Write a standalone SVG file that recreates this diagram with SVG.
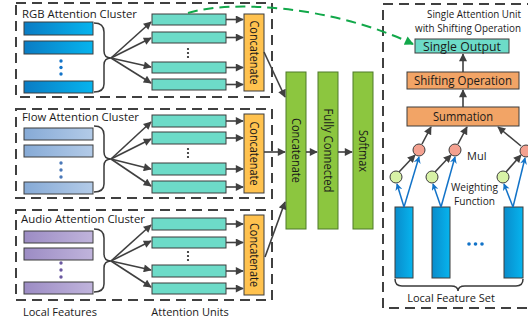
<svg xmlns="http://www.w3.org/2000/svg" width="528" height="323" viewBox="0 0 528 323">
  <defs>
    <linearGradient id="gRgb" x1="0" y1="0" x2="1" y2="0">
      <stop offset="0" stop-color="#0A7CC4"/>
      <stop offset="1" stop-color="#06B4EE"/>
    </linearGradient>
    <linearGradient id="gFlow" x1="0" y1="0" x2="1" y2="0">
      <stop offset="0" stop-color="#86AAD6"/>
      <stop offset="1" stop-color="#B3CBE8"/>
    </linearGradient>
    <linearGradient id="gAudio" x1="0" y1="0" x2="1" y2="0">
      <stop offset="0" stop-color="#9C8CC4"/>
      <stop offset="1" stop-color="#C0B4DC"/>
    </linearGradient>
    <linearGradient id="gFeat" x1="0" y1="0" x2="1" y2="0">
      <stop offset="0" stop-color="#0A8CCB"/>
      <stop offset="1" stop-color="#06B4EE"/>
    </linearGradient>
    <marker id="ah" viewBox="0 0 10 10" refX="9" refY="5" markerWidth="9" markerHeight="8" markerUnits="userSpaceOnUse" orient="auto">
      <path d="M0,0 L10,5 L0,10 Z" fill="#404040"/>
    </marker>
    <marker id="ahBlue" viewBox="0 0 10 10" refX="9" refY="5" markerWidth="8" markerHeight="7" markerUnits="userSpaceOnUse" orient="auto">
      <path d="M0,0 L10,5 L0,10 L3,5 Z" fill="#1273C8"/>
    </marker>
    <marker id="ahGreen" viewBox="0 0 10 10" refX="9" refY="5" markerWidth="11" markerHeight="9" markerUnits="userSpaceOnUse" orient="auto">
      <path d="M0,0 L10,5 L0,10 Z" fill="#12A84A"/>
    </marker>
  </defs>
  <style>
    text { font-family: "Open Sans", "Liberation Sans", sans-serif; fill: #1a1a1a; }
    .frame { fill: none; stroke: #404040; stroke-width: 2; stroke-dasharray: 10 6; }
    .title { font-size: 11px; }
    .label { font-size: 11px; }
    .unit { fill: #6DDBC8; stroke: #3c3c3c; stroke-width: 1; }
    .feat { stroke: #3c3c3c; stroke-width: 1; }
    .cat { fill: #FFC24F; stroke: #3c3c3c; stroke-width: 1; }
    .green { fill: #8CC63F; stroke: #4E7A2A; stroke-width: 1; }
    .orange { fill: #F2A466; stroke: #3c3c3c; stroke-width: 1; }
    .brace { fill: none; stroke: #3a3a3a; stroke-width: 1.5; }
    .arrow { fill: none; stroke: #404040; stroke-width: 1.6; marker-end: url(#ah); }
    .blue { fill: none; stroke: #1273C8; stroke-width: 1.5; marker-end: url(#ahBlue); }
    .mul { fill: #F4A190; stroke: #3c3c3c; stroke-width: 1; }
    .wfn { fill: #D8F2A6; stroke: #3c3c3c; stroke-width: 1; }
    .vtext { font-size: 12px; }
  </style>

  <!-- RGB cluster -->
  <g id="rgb-cluster">
    <rect class="frame" x="16" y="3" width="256" height="94"/>
    <text class="title" x="22" y="18" textLength="115" lengthAdjust="spacingAndGlyphs">RGB Attention Cluster</text>
    <rect class="feat" fill="url(#gRgb)" x="24" y="22" width="69" height="13"/>
    <rect class="feat" fill="url(#gRgb)" x="24" y="41" width="69" height="13"/>
    <rect class="feat" fill="url(#gRgb)" x="24" y="81" width="69" height="12"/>
    <g fill="#1273C8"><circle cx="61" cy="61" r="1.7"/><circle cx="61" cy="67.5" r="1.7"/><circle cx="61" cy="74" r="1.7"/></g>
    <path class="brace" d="M94,23 Q104,23 104,32 L104,51 Q104,58 111,58 Q104,58 104,65 L104,84 Q104,92 94,92"/>
    <rect class="unit" x="152" y="14" width="74" height="11"/>
    <rect class="unit" x="152" y="32" width="74" height="11"/>
    <rect class="unit" x="152" y="62" width="74" height="11"/>
    <rect class="unit" x="152" y="79" width="74" height="11"/>
    <g fill="#222"><circle cx="188" cy="49" r="1.1"/><circle cx="188" cy="53" r="1.1"/><circle cx="188" cy="57" r="1.1"/></g>
    <rect class="cat" x="244" y="14" width="20" height="77"/>
    <text class="vtext" transform="translate(250,52.5) rotate(90)" text-anchor="middle" textLength="64" lengthAdjust="spacingAndGlyphs">Concatenate</text>
  </g>

  <!-- Flow cluster -->
  <g id="flow-cluster">
    <rect class="frame" x="16" y="109" width="256" height="89"/>
    <text class="title" x="22" y="121" textLength="117" lengthAdjust="spacingAndGlyphs">Flow Attention Cluster</text>
    <rect class="feat" fill="url(#gFlow)" x="24" y="128" width="69" height="12"/>
    <rect class="feat" fill="url(#gFlow)" x="24" y="145" width="69" height="12"/>
    <rect class="feat" fill="url(#gFlow)" x="24" y="182" width="69" height="12"/>
    <g fill="#4A78B8"><circle cx="61" cy="163" r="1.7"/><circle cx="61" cy="170" r="1.7"/><circle cx="61" cy="177" r="1.7"/></g>
    <path class="brace" d="M94,126 Q104,126 104,135 L104,152 Q104,159 111,159 Q104,159 104,166 L104,184 Q104,192 94,192"/>
    <rect class="unit" x="152" y="115" width="74" height="12"/>
    <rect class="unit" x="152" y="132" width="74" height="12"/>
    <rect class="unit" x="152" y="163" width="74" height="12"/>
    <rect class="unit" x="152" y="181" width="74" height="12"/>
    <g fill="#222"><circle cx="188" cy="149" r="1.1"/><circle cx="188" cy="153" r="1.1"/><circle cx="188" cy="157" r="1.1"/></g>
    <rect class="cat" x="244" y="114" width="20" height="79"/>
    <text class="vtext" transform="translate(250,153.5) rotate(90)" text-anchor="middle" textLength="64" lengthAdjust="spacingAndGlyphs">Concatenate</text>
  </g>

  <!-- Audio cluster -->
  <g id="audio-cluster">
    <rect class="frame" x="16" y="210" width="256" height="90"/>
    <text class="title" x="21" y="223" textLength="124" lengthAdjust="spacingAndGlyphs">Audio Attention Cluster</text>
    <rect class="feat" fill="url(#gAudio)" x="24" y="231" width="69" height="12"/>
    <rect class="feat" fill="url(#gAudio)" x="24" y="248" width="69" height="12"/>
    <rect class="feat" fill="url(#gAudio)" x="24" y="282" width="69" height="12"/>
    <g fill="#6A58A0"><circle cx="61" cy="263" r="1.7"/><circle cx="61" cy="270" r="1.7"/><circle cx="61" cy="277" r="1.7"/></g>
    <path class="brace" d="M94,229 Q104,229 104,238 L104,254 Q104,261 111,261 Q104,261 104,268 L104,284 Q104,292 94,292"/>
    <rect class="unit" x="152" y="218" width="74" height="12"/>
    <rect class="unit" x="152" y="237" width="74" height="11"/>
    <rect class="unit" x="152" y="265" width="74" height="12"/>
    <rect class="unit" x="152" y="283" width="74" height="11"/>
    <g fill="#222"><circle cx="188" cy="252" r="1.1"/><circle cx="188" cy="256" r="1.1"/><circle cx="188" cy="260" r="1.1"/></g>
    <rect class="cat" x="244" y="215" width="20" height="80"/>
    <text class="vtext" transform="translate(250,255) rotate(90)" text-anchor="middle" textLength="64" lengthAdjust="spacingAndGlyphs">Concatenate</text>
  </g>

  <!-- Fusion layers -->
  <g id="concat-all">
    <rect class="green" x="286" y="72" width="20" height="157"/>
    <text class="vtext" transform="translate(292,150.5) rotate(90)" text-anchor="middle" textLength="65" lengthAdjust="spacingAndGlyphs">Concatenate</text>
  </g>
  <g id="fully-connected">
    <rect class="green" x="318" y="72" width="20" height="157"/>
    <text class="vtext" transform="translate(324,150.5) rotate(90)" text-anchor="middle" textLength="84" lengthAdjust="spacingAndGlyphs">Fully Connected</text>
  </g>
  <g id="softmax">
    <rect class="green" x="353" y="72" width="20" height="157"/>
    <text class="vtext" transform="translate(359,151) rotate(90)" text-anchor="middle" textLength="42" lengthAdjust="spacingAndGlyphs">Softmax</text>
  </g>

  <!-- Single attention unit panel -->
  <g id="attention-unit-panel">
    <rect class="frame" x="383" y="4" width="160" height="304"/>
    <text x="474" y="18" text-anchor="middle" font-size="10" textLength="94" lengthAdjust="spacingAndGlyphs">Single Attention Unit</text>
    <text x="468" y="32" text-anchor="middle" font-size="10" textLength="106" lengthAdjust="spacingAndGlyphs">with Shifting Operation</text>
  </g>
  <g id="single-output">
    <rect class="unit" x="415" y="39" width="94" height="14"/>
    <text x="462" y="50.5" text-anchor="middle" font-size="12" textLength="78" lengthAdjust="spacingAndGlyphs">Single Output</text>
  </g>
  <g id="shifting-operation">
    <rect class="orange" x="407" y="72" width="112" height="17"/>
    <text x="463" y="85" text-anchor="middle" font-size="12" textLength="98" lengthAdjust="spacingAndGlyphs">Shifting Operation</text>
  </g>
  <g id="summation">
    <rect class="orange" x="407" y="107" width="112" height="19"/>
    <text x="463" y="121" text-anchor="middle" font-size="12" textLength="60" lengthAdjust="spacingAndGlyphs">Summation</text>
  </g>
  <g id="mul">
    <circle class="mul" cx="419" cy="150" r="6"/>
    <circle class="mul" cx="455" cy="150" r="6"/>
    <circle class="mul" cx="526" cy="151" r="6"/>
    <text class="label" x="467" y="160">Mul</text>
  </g>
  <g id="weighting-function">
    <circle class="wfn" cx="396" cy="177" r="6"/>
    <circle class="wfn" cx="432" cy="177" r="6"/>
    <circle class="wfn" cx="503" cy="177" r="6"/>
    <text x="451" y="191" font-size="10.5" textLength="47" lengthAdjust="spacingAndGlyphs">Weighting</text>
    <text x="454" y="205" font-size="10.5" textLength="41" lengthAdjust="spacingAndGlyphs">Function</text>
  </g>
  <g id="local-feature-set">
    <rect class="feat" fill="url(#gFeat)" x="395" y="207" width="18" height="71"/>
    <rect class="feat" fill="url(#gFeat)" x="432" y="207" width="18" height="71"/>
    <rect class="feat" fill="url(#gFeat)" x="504" y="207" width="19" height="71"/>
    <g fill="#1273C8"><circle cx="469" cy="244" r="1.8"/><circle cx="475.5" cy="244" r="1.8"/><circle cx="482" cy="244" r="1.8"/></g>
    <path class="brace" d="M395,279 Q395,286 402,286 L451,286 Q458,286 458,291 Q458,286 465,286 L516,286 Q523,286 523,279"/>
    <text class="label" x="451" y="302" text-anchor="middle">Local Feature Set</text>
  </g>

  <!-- Bottom captions -->
  <text class="label" x="23" y="316">Local Features</text>
  <text class="label" x="190" y="316" text-anchor="middle">Attention Units</text>

  <!-- Connectors -->
  <g id="connectors">
    <!-- features to attention units -->
    <path class="arrow" d="M111,58 L151,22"/>
    <path class="arrow" d="M111,58 L151,38"/>
    <path class="arrow" d="M111,58 L151,67"/>
    <path class="arrow" d="M111,58 L151,83"/>
    <path class="arrow" d="M111,159 L151,122"/>
    <path class="arrow" d="M111,159 L151,139"/>
    <path class="arrow" d="M111,159 L151,169"/>
    <path class="arrow" d="M111,159 L151,186"/>
    <path class="arrow" d="M111,261 L151,225"/>
    <path class="arrow" d="M111,261 L151,241"/>
    <path class="arrow" d="M111,261 L151,270"/>
    <path class="arrow" d="M111,261 L151,287"/>
    <!-- attention units to concatenate -->
    <path class="arrow" d="M226,19.5 L243,19.5"/>
    <path class="arrow" d="M226,37.5 L243,37.5"/>
    <path class="arrow" d="M226,67.5 L243,67.5"/>
    <path class="arrow" d="M226,84.5 L243,84.5"/>
    <path class="arrow" d="M226,121 L243,121"/>
    <path class="arrow" d="M226,138 L243,138"/>
    <path class="arrow" d="M226,169 L243,169"/>
    <path class="arrow" d="M226,187 L243,187"/>
    <path class="arrow" d="M226,224 L243,224"/>
    <path class="arrow" d="M226,242.5 L243,242.5"/>
    <path class="arrow" d="M226,271 L243,271"/>
    <path class="arrow" d="M226,288.5 L243,288.5"/>
    <!-- cluster outputs to fusion -->
    <path class="arrow" d="M264,52 L285,97"/>
    <path class="arrow" d="M264,152 L285,152"/>
    <path class="arrow" d="M265,257 L285,202"/>
    <path class="arrow" d="M306,152 L317,152"/>
    <path class="arrow" d="M338,152 L352,152"/>
    <!-- attention unit internals -->
    <path class="arrow" d="M463,72 L463,54"/>
    <path class="arrow" d="M463,107 L463,90"/>
    <path class="arrow" d="M422,144 L431,127"/>
    <path class="arrow" d="M458,144 L467,127"/>
    <path class="arrow" d="M521,146 L498,127"/>
    <path class="arrow" d="M399,172 L415,155"/>
    <path class="arrow" d="M435,172 L451,155"/>
    <path class="arrow" d="M506,172 L521,155"/>
    <path class="blue" d="M404,207 L397,184"/>
    <path class="blue" d="M404,207 L419,157"/>
    <path class="blue" d="M441,207 L433,184"/>
    <path class="blue" d="M441,207 L455,157"/>
    <path class="blue" d="M513,207 L504,184"/>
    <path class="blue" d="M513,207 L525,158"/>
    <!-- green dashed link -->
    <path d="M188,13 C230,0 330,5 413,44" fill="none" stroke="#12A84A" stroke-width="2" stroke-dasharray="10 6" marker-end="url(#ahGreen)"/>
  </g>
</svg>
